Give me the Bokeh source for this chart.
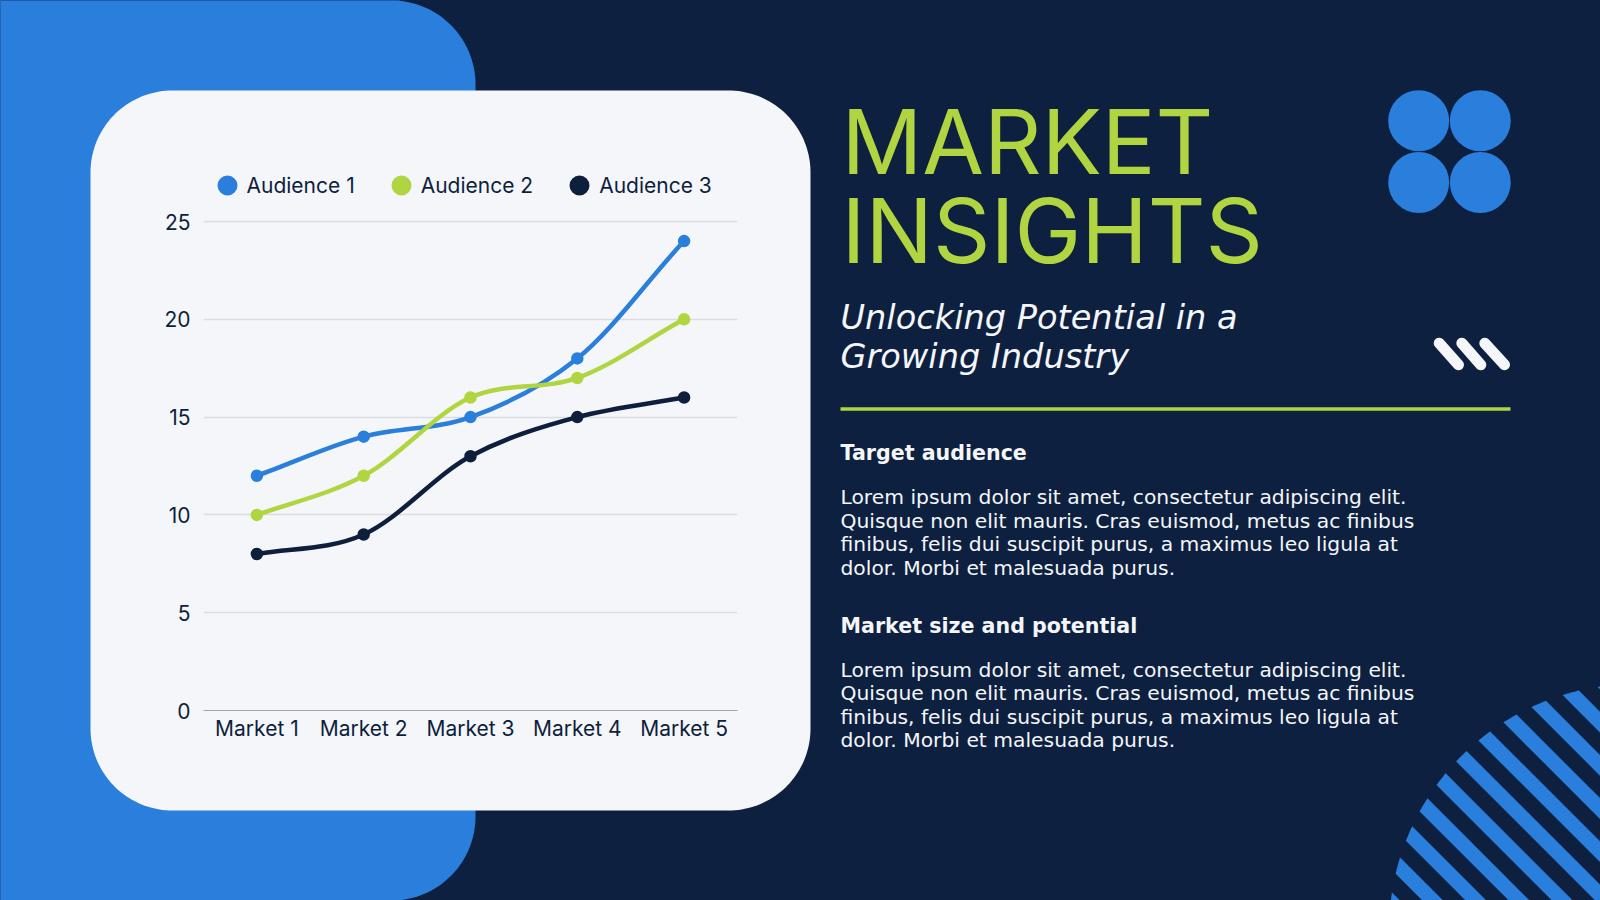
from bokeh.embed import file_html
from bokeh.resources import INLINE
from bokeh.plotting import figure
from bokeh.models import FactorRange, Range1d, Legend, LegendItem, FixedTicker
from bokeh.core.properties import value
import numpy as np

categories = ["Market 1", "Market 2", "Market 3", "Market 4", "Market 5"]
audience_1 = [12, 14, 15, 18, 24]
audience_2 = [10, 12, 16, 17, 20]
audience_3 = [8, 9, 13, 15, 16]
series_names = ["Audience 1", "Audience 2", "Audience 3"]
y_ticks = [0, 5, 10, 15, 20, 25]

title_lines = ["MARKET", "INSIGHTS"]
subtitle_lines = ["Unlocking Potential in a", "Growing Industry"]
heading_1 = "Target audience"
heading_2 = "Market size and potential"
body_lines = [
    "Lorem ipsum dolor sit amet, consectetur adipiscing elit.",
    "Quisque non elit mauris. Cras euismod, metus ac finibus",
    "finibus, felis dui suscipit purus, a maximus leo ligula at",
    "dolor. Morbi et malesuada purus.",
]

NAVY = "#0e2040"
BLUE = "#2b7fdc"
GREEN = "#b0d541"
CARD = "#f4f6f9"
INK = "#0e1f3d"
FONT = "Inter"
WIDE = "DejaVu Sans"


def rounded_rect(x0, y0, x1, y1, r):
    xs, ys = [], []
    for cx, cy, a0 in [(x1 - r, y0 + r, -90), (x1 - r, y1 - r, 0), (x0 + r, y1 - r, 90), (x0 + r, y0 + r, 180)]:
        t = np.radians(np.linspace(a0, a0 + 90, 40))
        xs += list(cx + r * np.cos(t))
        ys += list(cy + r * np.sin(t))
    return xs, ys


# ---------- backdrop: slide shapes and the text column ----------
bg = figure(width=1600, height=900, output_backend="svg", toolbar_location=None,
            x_range=Range1d(0, 1600), y_range=Range1d(900, 0), min_border=0,
            background_fill_color=NAVY, border_fill_color=NAVY, outline_line_color=None,
            x_axis_type=None, y_axis_type=None,
            styles={"position": "absolute", "left": "0px", "top": "0px",
                    "background": f"linear-gradient(to right, {BLUE} 400px, {NAVY} 400px)"})
bg.grid.visible = False

xs, ys = rounded_rect(-200, 0, 475, 900, 84)
bg.patch(xs, ys, fill_color=BLUE, line_color=None)
xs, ys = rounded_rect(90, 90, 810, 810, 82)
bg.patch(xs, ys, fill_color=CARD, line_color=None)

bg.circle(x=[1418.2, 1479.8, 1418.2, 1479.8], y=[120.3, 120.3, 182, 182], radius=30.5,
          fill_color=BLUE, line_color=None)

bg.multi_line(xs=[[1438.7, 1458], [1461.3, 1480.3], [1484.3, 1504]],
              ys=[[342.7, 364.3], [342.7, 364.3], [342.7, 364.3]],
              line_color=CARD, line_width=11, line_cap="round")

# striped disc, bottom right
CX, CY, R = 1635.0, 930.0, 246.5
stripes_x, stripes_y = [], []
for k in range(-1, 12):
    c_up = -888.3 + k * 43.2
    c_low = c_up + 20.8
    def angle(c):
        d = (c - (CY - CX)) / np.sqrt(2)          # signed offset from the centre
        foot = np.array([CX - d / np.sqrt(2), CY + d / np.sqrt(2)])
        if abs(d) >= R:
            return None
        h = np.sqrt(R * R - d * d)
        p_ = foot - h * np.array([1, 1]) / np.sqrt(2)
        return np.arctan2(p_[1] - CY, p_[0] - CX) % (2 * np.pi)
    a0, a1 = angle(c_up), angle(c_low)
    if a0 is None or a1 is None:
        continue
    t = np.linspace(a0, a1, 16)
    ax = list(CX + R * np.cos(t))
    ay = list(CY + R * np.sin(t))
    ax += [ax[-1] + 700, ax[0] + 700]
    ay += [ay[-1] + 700, ay[0] + 700]
    stripes_x.append(ax)
    stripes_y.append(ay)
bg.patches(stripes_x, stripes_y, fill_color=BLUE, line_color=None)

bg.text(x=[841, 841], y=[141, 229.5], text=title_lines, text_color=GREEN,
        text_font=value(FONT), text_font_size="89.5px", text_baseline="alphabetic")
bg.text(x=[840, 840], y=[316.7, 356.2], text=subtitle_lines, text_color=CARD,
        text_font=value(WIDE), text_font_size="33.6px", text_font_style="italic",
        text_baseline="alphabetic")
bg.segment(x0=[840], y0=[408.5], x1=[1510], y1=[408.5], line_color=GREEN, line_width=3.5)
bg.text(x=[840, 840], y=[452.5, 625], text=[heading_1, heading_2], text_color=CARD,
        text_font=value(WIDE), text_font_size="20.6px", text_font_style="bold",
        text_baseline="middle")
bg.text(x=[840] * 8,
        y=[496.6, 520, 543.5, 567, 669, 692.5, 716, 739],
        text=body_lines + body_lines, text_color=CARD,
        text_font=value(WIDE), text_font_size="20.3px", text_baseline="middle")

# ---------- the chart itself ----------
FRAME_TOP_EXTRA = 71 / (489 / 25)     # room above 25 for the legend, in data units
p = figure(width=720, height=720, output_backend="svg", toolbar_location=None,
           x_range=FactorRange(*categories, range_padding=0), y_range=Range1d(0, 25 + FRAME_TOP_EXTRA),
           min_border_left=113, min_border_right=73, min_border_top=60, min_border_bottom=100,
           background_fill_alpha=0, border_fill_alpha=0, outline_line_color=None,
           styles={"position": "absolute", "left": "90px", "top": "90px"})
p.xgrid.visible = False
p.ygrid.grid_line_color = "#d9dde3"
p.ygrid.grid_line_width = 1.5
p.yaxis.ticker = FixedTicker(ticks=y_ticks)
p.yaxis.axis_line_color = None
p.yaxis.major_tick_line_color = None
p.yaxis.minor_tick_line_color = None
p.yaxis.major_label_standoff = 7
p.yaxis.major_label_text_color = INK
p.yaxis.major_label_text_font = FONT
p.yaxis.major_label_text_font_size = "21px"
p.xaxis.axis_line_color = "#9aa6b4"
p.xaxis.axis_line_width = 1.2
p.xaxis.major_tick_line_color = None
p.xaxis.minor_tick_line_color = None
p.xaxis.major_label_standoff = -1
p.xaxis.major_label_text_color = INK
p.xaxis.major_label_text_font = FONT
p.xaxis.major_label_text_font_size = "21px"

items = []
for name, vals, col in zip(series_names, [audience_1, audience_2, audience_3], [BLUE, GREEN, INK]):
    y = np.array(vals, dtype=float)
    xpos = np.arange(len(y)) + 0.5                 # centres of the category bands
    slope = np.gradient(y) * 0.97
    p.bezier(x0=xpos[:-1], y0=y[:-1], x1=xpos[1:], y1=y[1:],
             cx0=xpos[:-1] + 1 / 3, cy0=y[:-1] + slope[:-1] / 3,
             cx1=xpos[1:] - 1 / 3, cy1=y[1:] - slope[1:] / 3,
             line_color=col, line_width=4.5)
    r = p.scatter(x=categories, y=vals, size=8.5, marker="circle", fill_color=col,
                  line_color=col, line_width=4)
    items.append(LegendItem(label=name, renderers=[r]))

legend = Legend(items=items, orientation="horizontal", location=(3.5, 505),
                glyph_width=40, glyph_height=40, label_standoff=0, spacing=26,
                padding=0, margin=0, background_fill_alpha=0, border_line_alpha=0,
                label_text_font=FONT, label_text_font_size="21px", label_text_color=INK,
                label_text_baseline="middle")
p.add_layout(legend, "center")

open("out.html", "w").write(file_html([bg, p], INLINE))
